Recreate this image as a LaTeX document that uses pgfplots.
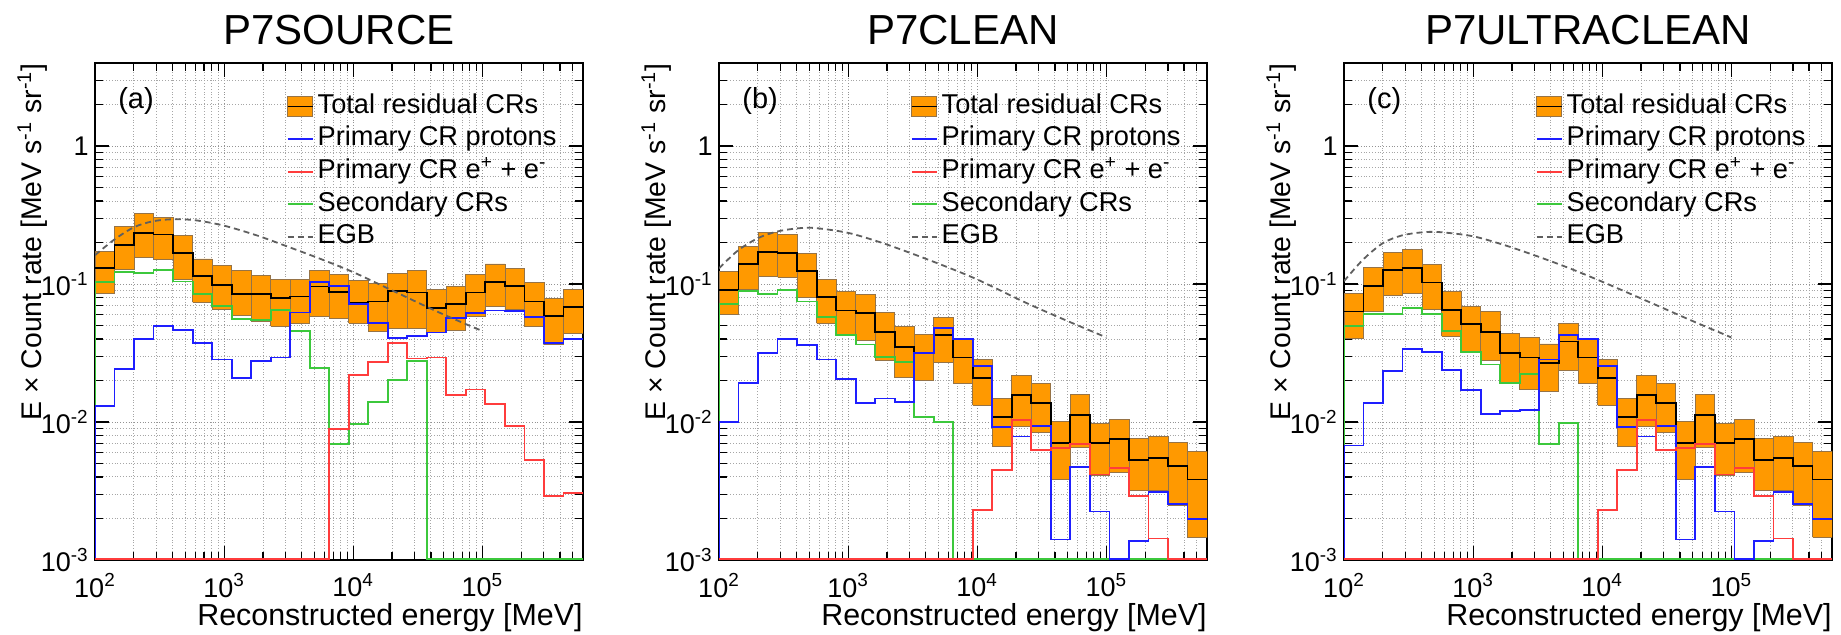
\documentclass[border=0pt]{standalone}
\usepackage{pgfplots}
\usepackage{pgfplotstable}
\pgfplotsset{compat=1.18}
\usepackage{fontspec}
\setmainfont{Liberation Sans}
\definecolor{cborange}{RGB}{255,153,0}
\definecolor{boxedge}{RGB}{150,115,70}
\definecolor{pblue}{RGB}{30,30,255}
\definecolor{pred}{RGB}{255,60,60}
\definecolor{pgreen}{RGB}{60,200,60}
\definecolor{egbgray}{RGB}{95,95,95}

% columns: bin low edge, bin high edge, total (centre, low, high), protons, e+e-, secondaries
% row 0 = start at floor, last row = closing point; 0.00102 stands for zero (drawn on the floor)
\pgfplotstableread{
e0 e1 c lo hi p ee s
100 100 0.00102 0.00102 0.00102 0.00102 0.00102 0.00102
100 141.6 0.131 0.085 0.173 0.0130 0.00102 0.1034
141.6 200.6 0.193 0.127 0.260 0.0242 0.00102 0.1216
200.6 284.1 0.233 0.155 0.324 0.0398 0.00102 0.1200
284.1 402.4 0.229 0.150 0.306 0.0498 0.00102 0.1270
402.4 570.2 0.168 0.108 0.225 0.0465 0.00102 0.1045
570.2 807.6 0.114 0.0736 0.152 0.0372 0.00102 0.0850
807.6 1144 0.099 0.0658 0.136 0.0284 0.00102 0.0695
1144 1620 0.085 0.0591 0.125 0.0209 0.00102 0.0556
1620 2295 0.085 0.0535 0.115 0.0277 0.00102 0.0550
2295 3251 0.079 0.0497 0.1087 0.0294 0.00102 0.0650
3251 4605 0.0813 0.052 0.1087 0.0622 0.00102 0.0457
4605 6522 0.096 0.058 0.126 0.103 0.00102 0.0247
6522 9239 0.088 0.056 0.118 0.097 0.0089 0.00695
9239 13087 0.0727 0.052 0.106 0.072 0.0219 0.00973
13087 18535 0.0748 0.0452 0.1017 0.052 0.0274 0.0140
18535 26260 0.0885 0.0479 0.119 0.0409 0.0372 0.0201
26260 37190 0.0869 0.0479 0.126 0.042 0.0289 0.0278
37190 52680 0.0669 0.0444 0.091 0.0445 0.0294 0.00102
52680 74620 0.0719 0.046 0.0962 0.0565 0.0156 0.00102
74620 105680 0.0869 0.058 0.117 0.0615 0.0172 0.00102
105680 149690 0.1034 0.0687 0.140 0.0643 0.0135 0.00102
149690 212030 0.0973 0.065 0.1294 0.0636 0.0093 0.00102
212030 300300 0.0748 0.0492 0.1028 0.058 0.00532 0.00102
300300 425500 0.0587 0.0365 0.0782 0.0376 0.00292 0.00102
425500 602560 0.068 0.044 0.092 0.0398 0.00306 0.00102
602560 602560 0.068 0.044 0.092 0.0398 0.00306 0.00102
}\tabA

\pgfplotstableread{
e0 e1 c lo hi p ee s
100 100 0.00102 0.00102 0.00102 0.00102 0.00102 0.00102
100 141.6 0.091 0.0598 0.1236 0.0100 0.00102 0.0720
141.6 200.6 0.1406 0.092 0.188 0.0193 0.00102 0.0885
200.6 284.1 0.171 0.1137 0.235 0.0315 0.00102 0.0850
284.1 402.4 0.168 0.1119 0.2285 0.0398 0.00102 0.0910
402.4 570.2 0.1236 0.0804 0.1663 0.0362 0.00102 0.0748
570.2 807.6 0.0804 0.052 0.1087 0.0284 0.00102 0.0580
807.6 1144 0.0643 0.0428 0.0885 0.0205 0.00102 0.0428
1144 1620 0.0615 0.0389 0.0836 0.01375 0.00102 0.0365
1620 2295 0.0452 0.0278 0.0625 0.0148 0.00102 0.0297
2295 3251 0.0348 0.021 0.0492 0.0140 0.00102 0.0274
3251 4605 0.0315 0.0199 0.0432 0.0318 0.00102 0.01087
4605 6522 0.0428 0.0272 0.0572 0.0479 0.00102 0.0100
6522 9239 0.0294 0.019 0.0404 0.0398 0.00102 0.00102
9239 13087 0.0209 0.0132 0.0284 0.0254 0.0023 0.00102
13087 18535 0.01087 0.00665 0.0148 0.0092 0.0045 0.00102
18535 26260 0.0156 0.0093 0.0219 0.00787 0.0104 0.00102
26260 37190 0.01375 0.00845 0.019 0.0093 0.0063 0.00102
37190 52680 0.00704 0.00387 0.01016 0.00141 0.0065 0.00102
52680 74620 0.0113 0.0065 0.0158 0.0047 0.0069 0.00102
74620 105680 0.00707 0.00409 0.00984 0.00225 0.00416 0.00102
105680 149690 0.00757 0.00432 0.0104 0.00102 0.00465 0.00102
149690 212030 0.00532 0.00318 0.00757 0.00137 0.0029 0.00102
212030 300300 0.0055 0.00322 0.00787 0.0031 0.00143 0.00102
300300 425500 0.00483 0.00247 0.00715 0.00253 0.00102 0.00102
425500 602560 0.00383 0.00146 0.00615 0.00198 0.00102 0.00102
602560 602560 0.00383 0.00146 0.00615 0.00198 0.00102 0.00102
}\tabB

\pgfplotstableread{
e0 e1 c lo hi p ee s
100 100 0.00102 0.00102 0.00102 0.00102 0.00102 0.00102
100 141.6 0.0632 0.0404 0.085 0.00676 0.00102 0.0498
141.6 200.6 0.0973 0.0632 0.131 0.01375 0.00102 0.0608
200.6 284.1 0.126 0.0822 0.170 0.0235 0.00102 0.0608
284.1 402.4 0.131 0.085 0.178 0.0337 0.00102 0.0669
402.4 570.2 0.1028 0.0658 0.138 0.0324 0.00102 0.0608
570.2 807.6 0.065 0.042 0.0885 0.0238 0.00102 0.0460
807.6 1144 0.0514 0.0324 0.0687 0.0170 0.00102 0.0324
1144 1620 0.0452 0.0278 0.0632 0.0114 0.00102 0.0261
1620 2295 0.0318 0.0192 0.044 0.0120 0.00102 0.0192
2295 3251 0.0294 0.0172 0.0411 0.0123 0.00102 0.0222
3251 4605 0.0269 0.0168 0.0368 0.0284 0.00102 0.00695
4605 6522 0.0383 0.0238 0.052 0.0428 0.00102 0.00984
6522 9239 0.0294 0.019 0.0404 0.0398 0.00102 0.00102
9239 13087 0.0209 0.0132 0.0284 0.0254 0.0023 0.00102
13087 18535 0.01087 0.00665 0.0148 0.0092 0.0045 0.00102
18535 26260 0.0156 0.0093 0.0219 0.00787 0.0104 0.00102
26260 37190 0.01375 0.00845 0.019 0.0093 0.0063 0.00102
37190 52680 0.00704 0.00387 0.01016 0.00141 0.0065 0.00102
52680 74620 0.0113 0.0065 0.0158 0.0047 0.0069 0.00102
74620 105680 0.00707 0.00409 0.00984 0.00225 0.00416 0.00102
105680 149690 0.00757 0.00432 0.0104 0.00102 0.00465 0.00102
149690 212030 0.00532 0.00318 0.00757 0.00137 0.0029 0.00102
212030 300300 0.0055 0.00322 0.00787 0.0031 0.00143 0.00102
300300 425500 0.00483 0.00247 0.00715 0.00253 0.00102 0.00102
425500 602560 0.00383 0.00146 0.00615 0.00198 0.00102 0.00102
602560 602560 0.00383 0.00146 0.00615 0.00198 0.00102 0.00102
}\tabC

\newcommand\drawboxes[1]{%
  \pgfplotsforeachungrouped \i in {1,...,25}{%
    \pgfplotstablegetelem{\i}{e0}\of{#1}\let\xa\pgfplotsretval
    \pgfplotstablegetelem{\i}{e1}\of{#1}\let\xb\pgfplotsretval
    \pgfplotstablegetelem{\i}{lo}\of{#1}\let\ya\pgfplotsretval
    \pgfplotstablegetelem{\i}{hi}\of{#1}\let\yb\pgfplotsretval
    \edef\tmp{\noexpand\addplot[fill=cborange, draw=boxedge, line width=0.4pt, forget plot] coordinates {(\xa,\ya) (\xb,\ya) (\xb,\yb) (\xa,\yb) (\xa,\ya)};}%
    \tmp
  }%
}

\newcommand\drawseries[1]{%
  \drawboxes{#1}
  \addplot[black, line width=0.9pt, const plot mark left, skip coords between index={0}{1}, forget plot] table[x=e0,y=c]{#1};
  \addplot[pgreen, line width=0.9pt, const plot mark left, forget plot] table[x=e0,y=s]{#1};
  \addplot[pblue, line width=0.9pt, const plot mark left, forget plot] table[x=e0,y=p]{#1};
  \addplot[pred, line width=0.9pt, const plot mark left, forget plot] table[x=e0,y=ee]{#1};
}

\newcommand\drawlegend{%
  \addlegendimage{legend image code/.code={\draw[fill=cborange, draw=boxedge, line width=0.4pt] (0pt,-5pt) rectangle (12.5pt,5pt); \draw[black, line width=0.9pt] (0pt,0pt) -- (12.5pt,0pt);}}
  \addlegendentry{Total residual CRs}
  \addlegendimage{pblue, line width=0.9pt}
  \addlegendentry{Primary CR protons}
  \addlegendimage{pred, line width=0.9pt}
  \addlegendentry{Primary CR e\textsuperscript{+} + e\textsuperscript{-}}
  \addlegendimage{pgreen, line width=0.9pt}
  \addlegendentry{Secondary CRs}
  \addlegendimage{egbgray, dash pattern=on 3pt off 2pt, line width=0.9pt}
  \addlegendentry{EGB}
}

\pgfplotsset{
  every axis/.append style={
    scale only axis, width=244pt, height=248.5pt,
    xmin=100, xmax=602560, ymin=0.001, ymax=4,
    xtick={100,1000,10000,100000},
    xticklabels={10\textsuperscript{2},10\textsuperscript{3},10\textsuperscript{4},10\textsuperscript{5}},
    minor xtick={200,300,400,500,600,700,800,900,2000,3000,4000,5000,6000,7000,8000,9000,20000,30000,40000,50000,60000,70000,80000,90000,200000,300000,400000,500000,600000},
    ytick={0.001,0.01,0.1,1},
    yticklabels={10\textsuperscript{-3},10\textsuperscript{-2},10\textsuperscript{-1},1},
    minor ytick={0.002,0.003,0.004,0.005,0.006,0.007,0.008,0.009,0.02,0.03,0.04,0.05,0.06,0.07,0.08,0.09,0.2,0.3,0.4,0.5,0.6,0.7,0.8,0.9,2,3,4},
    grid=both,
    major grid style={densely dotted, gray!85, line width=0.45pt},
    minor grid style={densely dotted, gray!70, line width=0.45pt},
    tick align=inside,
    major tick length=7pt, minor tick length=4pt,
    tick style={black, line width=0.6pt},
    axis line style={line width=0.9pt},
    tick label style={font=\fontsize{13.5}{16}\selectfont},
    xticklabel style={inner sep=0pt, yshift=-6.5pt},
    yticklabel style={inner sep=0pt, xshift=-3pt},
    xlabel={Reconstructed energy [MeV]},
    ylabel={E × Count rate [MeV s\textsuperscript{-1} sr\textsuperscript{-1}]},
    xlabel style={at={(axis description cs:1,-0.1308)}, anchor=base east, inner sep=0pt, font=\fontsize{15.2}{18}\selectfont},
    ylabel style={at={(axis description cs:-0.1096,1)}, anchor=base east, inner sep=0pt, font=\fontsize{14.2}{17}\selectfont},
    title style={at={(axis description cs:0.5,1.013)}, anchor=base, font=\fontsize{21}{25}\selectfont},
    legend style={draw=none, fill=none, at={(axis description cs:0.380,0.947)}, anchor=north west,
      font=\fontsize{13.6}{16}\selectfont, row sep=3.6pt,
      nodes={inner sep=0pt, text height=9.8pt, text depth=2.9pt},
      /tikz/every odd column/.append style={column sep=2pt}},
    legend cell align=left,
    legend image code/.code={\draw (0pt,0pt) -- (12.5pt,0pt);},
  },
}

\begin{document}
\begin{tikzpicture}
\path[use as bounding box] (0pt,-37pt) rectangle (920.5pt,280pt);

\begin{axis}[xmode=log, ymode=log, at={(47.5pt,0pt)}, anchor=south west, title={P7SOURCE}]
  \drawseries{\tabA}
  \addplot[egbgray, dash pattern=on 3pt off 2pt, line width=0.9pt, smooth, forget plot] coordinates {(100,0.162) (141,0.21) (200,0.258) (280,0.285) (400,0.295) (600,0.29) (1000,0.265) (1800,0.225) (3200,0.185) (5600,0.152) (10000,0.122) (20000,0.09) (45000,0.063) (88000,0.048) (100000,0.046)};
  \drawlegend
  \node[anchor=west, inner sep=0pt, font=\fontsize{14.5}{17}\selectfont] at (axis description cs:0.047,0.924) {(a)};
\end{axis}

\begin{axis}[xmode=log, ymode=log, at={(359.5pt,0pt)}, anchor=south west, title={P7CLEAN}]
  \drawseries{\tabB}
  \addplot[egbgray, dash pattern=on 3pt off 2pt, line width=0.9pt, smooth, forget plot] coordinates {(100,0.13) (140,0.175) (200,0.215) (280,0.24) (400,0.253) (550,0.255) (1000,0.235) (1800,0.2) (3200,0.165) (5600,0.135) (10000,0.108) (24000,0.073) (50000,0.054) (89000,0.043) (100000,0.041)};
  \drawlegend
  \node[anchor=west, inner sep=0pt, font=\fontsize{14.5}{17}\selectfont] at (axis description cs:0.047,0.924) {(b)};
\end{axis}

\begin{axis}[xmode=log, ymode=log, at={(672pt,0pt)}, anchor=south west, title={P7ULTRACLEAN}]
  \drawseries{\tabC}
  \addplot[egbgray, dash pattern=on 3pt off 2pt, line width=0.9pt, smooth, forget plot] coordinates {(100,0.105) (140,0.15) (200,0.198) (280,0.225) (400,0.237) (550,0.238) (1000,0.222) (1800,0.19) (3200,0.158) (5600,0.13) (10000,0.104) (24000,0.073) (50000,0.054) (89000,0.043) (100000,0.041)};
  \drawlegend
  \node[anchor=west, inner sep=0pt, font=\fontsize{14.5}{17}\selectfont] at (axis description cs:0.047,0.924) {(c)};
\end{axis}
\end{tikzpicture}
\end{document}
